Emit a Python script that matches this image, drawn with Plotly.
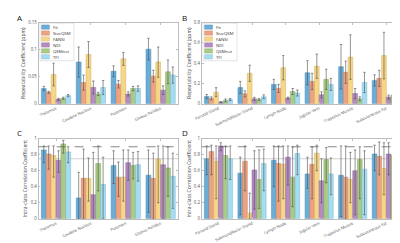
import plotly.graph_objects as go

# ---------------- data ----------------
methods = ["Fit", "StarQSM", "FANSI", "NDI", "QSMnet", "TFI"]
colors = ["#6aaed8", "#eda282", "#f6d689", "#b48cc2", "#a9cb86", "#a6dcf0"]
edge = ["#4a8cb8", "#c97c5c", "#d2b060", "#8f669e", "#83a661", "#7ab8d0"]

brain_regions = ["Thalamus", "Caudate Nucleus", "Putamen", "Globus Pallidus"]
neck_regions = ["Parotid Gland", "Submandibular Gland", "Lymph Node",
                "Jugular Vein", "Trapezius Muscle", "Subcutaneous Fat"]

# Panel A: repeatability coefficient (ppm), brain
rc_brain = {
    "Fit":     [0.028, 0.077, 0.060, 0.101],
    "StarQSM": [0.021, 0.039, 0.036, 0.051],
    "FANSI":   [0.054, 0.091, 0.083, 0.077],
    "NDI":     [0.008, 0.030, 0.018, 0.025],
    "QSMnet":  [0.010, 0.018, 0.028, 0.059],
    "TFI":     [0.015, 0.030, 0.028, 0.053],
}
rc_brain_err = {
    "Fit":     [0.004, 0.028, 0.010, 0.020],
    "StarQSM": [0.002, 0.014, 0.007, 0.011],
    "FANSI":   [0.021, 0.024, 0.012, 0.028],
    "NDI":     [0.002, 0.012, 0.004, 0.008],
    "QSMnet":  [0.002, 0.003, 0.004, 0.022],
    "TFI":     [0.002, 0.013, 0.005, 0.015],
}

# Panel B: repeatability coefficient (ppm), neck
rc_neck = {
    "Fit":     [0.070, 0.160, 0.190, 0.305, 0.365, 0.230],
    "StarQSM": [0.052, 0.097, 0.150, 0.220, 0.310, 0.250],
    "FANSI":   [0.113, 0.300, 0.355, 0.370, 0.460, 0.475],
    "NDI":     [0.016, 0.048, 0.055, 0.087, 0.100, 0.065],
    "QSMnet":  [0.032, 0.040, 0.120, 0.240, 0.048, 0.085],
    "TFI":     [0.040, 0.068, 0.105, 0.190, 0.210, 0.135],
}
rc_neck_err = {
    "Fit":     [0.020, 0.060, 0.050, 0.120, 0.220, 0.055],
    "StarQSM": [0.015, 0.030, 0.040, 0.080, 0.110, 0.080],
    "FANSI":   [0.045, 0.080, 0.120, 0.120, 0.220, 0.230],
    "NDI":     [0.005, 0.015, 0.010, 0.030, 0.050, 0.020],
    "QSMnet":  [0.015, 0.010, 0.030, 0.100, 0.020, 0.015],
    "TFI":     [0.010, 0.020, 0.030, 0.060, 0.100, 0.030],
}

# Panel C: ICC, brain (value, lower CI, upper CI)
icc_brain = {
    "Fit":     [0.86, 0.26, 0.665, 0.545],
    "StarQSM": [0.81, 0.505, 0.52, 0.505],
    "FANSI":   [0.79, 0.505, 0.52, 0.745],
    "NDI":     [0.73, 0.30, 0.70, 0.675],
    "QSMnet":  [0.935, 0.69, 0.665, 0.635],
    "TFI":     [0.835, 0.43, 0.675, 0.53],
}
icc_brain_lo = {
    "Fit":     [0.70, 0.00, 0.44, 0.08],
    "StarQSM": [0.62, 0.00, 0.28, 0.00],
    "FANSI":   [0.52, 0.22, 0.22, 0.20],
    "NDI":     [0.58, 0.00, 0.48, 0.00],
    "QSMnet":  [0.82, 0.35, 0.50, 0.28],
    "TFI":     [0.70, 0.00, 0.47, 0.13],
}
icc_brain_hi = {
    "Fit":     [0.91, 0.58, 0.85, 0.86],
    "StarQSM": [0.91, 0.87, 0.71, 0.82],
    "FANSI":   [0.91, 0.76, 0.86, 0.91],
    "NDI":     [0.85, 0.83, 0.86, 0.91],
    "QSMnet":  [0.98, 0.91, 0.83, 0.90],
    "TFI":     [0.90, 0.77, 0.84, 0.82],
}

# Panel D: ICC, neck
icc_neck = {
    "Fit":     [0.75, 0.57, 0.73, 0.56, 0.545, 0.81],
    "StarQSM": [0.84, 0.72, 0.69, 0.68, 0.52, 0.78],
    "FANSI":   [0.72, 0.07, 0.68, 0.82, 0.49, 0.63],
    "NDI":     [0.91, 0.61, 0.77, 0.475, 0.60, 0.81],
    "QSMnet":  [0.79, 0.49, 0.52, 0.74, 0.74, 0.79],
    "TFI":     [0.75, 0.69, 0.815, 0.56, 0.62, 0.84],
}
icc_neck_lo = {
    "Fit":     [0.55, 0.05, 0.40, 0.38, 0.03, 0.60],
    "StarQSM": [0.55, 0.35, 0.22, 0.25, 0.00, 0.55],
    "FANSI":   [0.25, 0.00, 0.25, 0.60, 0.20, 0.30],
    "NDI":     [0.85, 0.12, 0.42, 0.20, 0.05, 0.55],
    "QSMnet":  [0.50, 0.13, 0.15, 0.45, 0.25, 0.55],
    "TFI":     [0.49, 0.35, 0.55, 0.30, 0.05, 0.60],
}
icc_neck_hi = {
    "Fit":     [0.91, 0.77, 0.91, 0.77, 0.91, 0.92],
    "StarQSM": [0.92, 0.91, 0.91, 0.90, 0.91, 0.96],
    "FANSI":   [0.91, 0.32, 0.91, 0.92, 0.83, 0.95],
    "NDI":     [0.95, 0.85, 0.91, 0.75, 0.86, 0.95],
    "QSMnet":  [0.91, 0.86, 0.90, 0.89, 0.90, 0.95],
    "TFI":     [0.91, 0.87, 0.92, 0.76, 0.85, 0.95],
}

# ---------------- layout helpers ----------------
W, H = 400, 243
def px(x):
    return x / W
def py(y):
    return 1 - y / H

FONT = "Open Sans"
TICK_COLOR = "#555555"
AXIS_COLOR = "#bdbdbd"

fig = go.Figure()

def add_panel(ax, cats, vals, errp=None, lo=None, hi=None):
    for i, m in enumerate(methods):
        v = vals[m]
        if lo is not None:
            ep = [h - a for h, a in zip(hi[m], v)]
            em = [a - l for a, l in zip(v, lo[m])]
        else:
            ep = errp[m]
            em = errp[m]
        fig.add_trace(go.Bar(
            x=cats, y=v, name=m, showlegend=False,
            xaxis="x" + ax, yaxis="y" + ax,
            marker=dict(color=colors[i], line=dict(color=edge[i], width=0.5)),
            error_y=dict(type="data", symmetric=False, array=ep, arrayminus=em,
                         color="#4d4d4d", thickness=0.6, width=1.2),
        ))

add_panel("", brain_regions, rc_brain, errp=rc_brain_err)
add_panel("2", neck_regions, rc_neck, errp=rc_neck_err)
add_panel("3", brain_regions, icc_brain, lo=icc_brain_lo, hi=icc_brain_hi)
add_panel("4", neck_regions, icc_neck, lo=icc_neck_lo, hi=icc_neck_hi)

xd_left = [px(24), px(166)]
xd_right = [px(190), px(395)]
yd_top = [py(95), py(12)]
yd_bot = [py(213), py(131)]

def xaxis(domain, anchor):
    return dict(domain=domain, anchor=anchor, type="category",
                tickangle=-25, tickfont=dict(size=4.0, color=TICK_COLOR, family=FONT),
                showline=True, linecolor=AXIS_COLOR, linewidth=0.7, mirror="ticks",
                ticks="inside", ticklen=2, tickcolor=AXIS_COLOR, showgrid=False,
                zeroline=False)

def yaxis(domain, anchor, rng, dtick, title):
    return dict(domain=domain, anchor=anchor, range=rng, dtick=dtick,
                tickfont=dict(size=4.4, color=TICK_COLOR, family=FONT),
                showline=True, linecolor=AXIS_COLOR, linewidth=0.7, mirror="ticks",
                ticks="inside", ticklen=2, tickcolor=AXIS_COLOR, showgrid=False,
                zeroline=False, tickformat="~g",
                title=dict(text=title, font=dict(size=5.0, color="#444", family=FONT),
                           standoff=2))

fig.update_layout(
    width=W, height=H,
    margin=dict(l=0, r=0, t=0, b=0),
    paper_bgcolor="white", plot_bgcolor="white",
    barmode="group", bargap=0.16, bargroupgap=0.0,
    font=dict(family=FONT),
    xaxis=xaxis(xd_left, "y"),
    yaxis=yaxis(yd_top, "x", [0, 0.15], 0.05, "Repeatability Coefficient (ppm)"),
    xaxis2=xaxis(xd_right, "y2"),
    yaxis2=yaxis(yd_top, "x2", [0, 0.8], 0.2, "Repeatability Coefficient (ppm)"),
    xaxis3=xaxis(xd_left, "y3"),
    yaxis3=yaxis(yd_bot, "x3", [0, 1], 0.2, "Intra-class Correlation Coefficient"),
    xaxis4=xaxis(xd_right, "y4"),
    yaxis4=yaxis(yd_bot, "x4", [0, 1], 0.2, "Intra-class Correlation Coefficient"),
)

shapes = []
# reference lines in ICC panels
for ax in ["3", "4"]:
    shapes.append(dict(type="line", xref="x%s domain" % ax, yref="y" + ax,
                       x0=0, x1=1, y0=0.75, y1=0.75,
                       line=dict(color="#d0d0d0", width=1.0), layer="below"))
    shapes.append(dict(type="line", xref="x%s domain" % ax, yref="y" + ax,
                       x0=0, x1=1, y0=0.9, y1=0.9,
                       line=dict(color="#555555", width=0.7, dash="dash")))

annotations = []
# manual legends in panels A and B
for left in [24, 190]:
    shapes.append(dict(type="rect", xref="paper", yref="paper",
                       x0=px(left + 1.5), x1=px(left + 36), y0=py(51), y1=py(12.5),
                       line=dict(color="#c8c8c8", width=0.5), fillcolor="white"))
    for i, m in enumerate(methods):
        yc = 16.5 + i * 6.1
        shapes.append(dict(type="rect", xref="paper", yref="paper",
                           x0=px(left + 3), x1=px(left + 11),
                           y0=py(yc + 2.2), y1=py(yc - 2.2),
                           fillcolor=colors[i], line=dict(color=edge[i], width=0.4)))
        annotations.append(dict(xref="paper", yref="paper", x=px(left + 12.5), y=py(yc),
                                text=m, showarrow=False, xanchor="left", yanchor="middle",
                                font=dict(size=4.3, color="#333", family=FONT)))

# panel letters
for letter, xx, yy in [("A", 5, 7), ("B", 173, 7), ("C", 5, 125), ("D", 173, 125)]:
    annotations.append(dict(xref="paper", yref="paper", x=px(xx), y=py(yy),
                            text=letter, showarrow=False, xanchor="center", yanchor="middle",
                            font=dict(size=8, color="#111", family=FONT)))

fig.update_layout(shapes=shapes, annotations=annotations)
fig.write_html("out.html")
